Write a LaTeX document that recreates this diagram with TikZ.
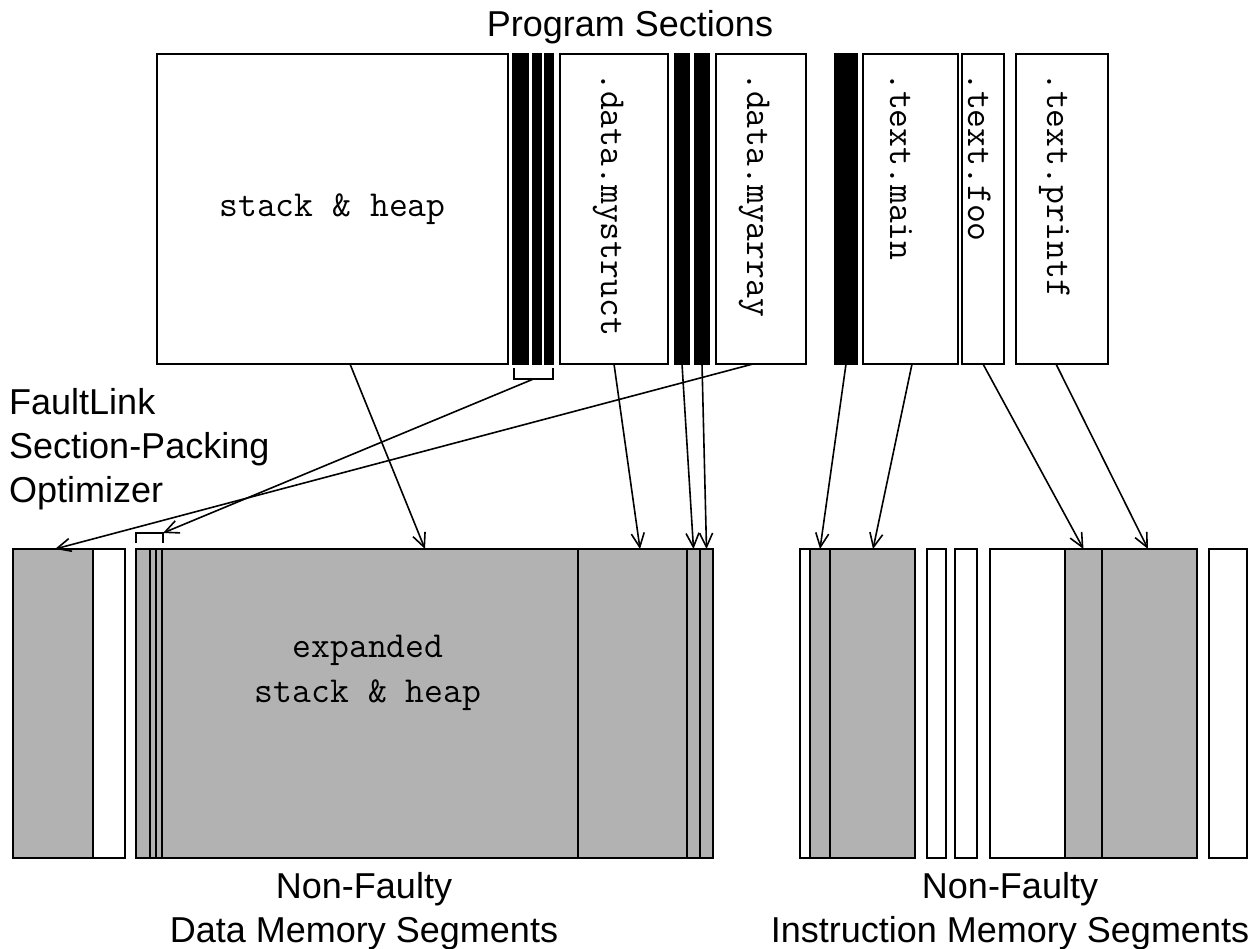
\documentclass[tikz,border=0pt]{standalone}
\usepackage{fontspec}
\setmainfont{Liberation Sans}
\usetikzlibrary{arrows.meta,calc}
\begin{document}
\begin{tikzpicture}[x=1pt,y=-1pt,
  bx/.style={draw=black, line width=1.6pt, inner sep=0pt, outer sep=0pt, anchor=north west, minimum height=310pt},
  wbox/.style={bx, fill=white},
  kbox/.style={bx, fill=black},
  gbox/.style={bx, fill=black!30, minimum height=309pt},
  obox/.style={bx, fill=white, minimum height=309pt},
  ln/.style={line width=1.6pt},
  arr/.style={line width=1.6pt, -{Straight Barb[length=14pt,width=13pt,line width=1.6pt]}},
  sans/.style={font=\fontsize{36}{44}\selectfont, inner sep=0pt, align=center},
  mono/.style={font=\fontsize{36.6}{45}\selectfont\ttfamily, inner sep=0pt, align=center},
  vlab/.style={font=\fontsize{36.6}{45}\selectfont\ttfamily, inner sep=0pt, rotate=-90, anchor=base west}
]
\useasboundingbox (0,0) rectangle (1260,949);

% top program sections
\node[wbox, minimum width=351pt] (sh) at (157,54) {};
\node[mono] (shl) at (sh.center) {stack \& heap};
\node[kbox, minimum width=15pt] (b1) at (513,54) {};
\node[kbox, minimum width=8pt] (b2) at (533,54) {};
\node[kbox, minimum width=8pt] (b3) at (545,54) {};
\node[wbox, minimum width=108pt] (ms) at (560,54) {};
\node[kbox, minimum width=14pt] (b4) at (675,54) {};
\node[kbox, minimum width=14pt] (b5) at (695,54) {};
\node[wbox, minimum width=90pt] (ma) at (716,54) {};
\node[kbox, minimum width=22pt] (b6) at (835,54) {};
\node[wbox, minimum width=95pt] (tm) at (863,54) {};
\node[wbox, minimum width=42pt] (tf) at (962,54) {};
\node[wbox, minimum width=92pt] (tp) at (1016,54) {};

\node[vlab] (msl) at (601,72) {.data.mystruct};
\node[vlab] (mal) at (747,72) {.data.myarray};
\node[vlab] (tml) at (890,72) {.text.main};
\node[vlab] (tfl) at (968,72) {.text.foo};
\node[vlab] (tpl) at (1047,72) {.text.printf};

% bottom data segments
\node[gbox, minimum width=80pt] (l1) at (13,549) {};
\node[obox, minimum width=32pt] (l2) at (93,549) {};
\node[gbox, minimum width=14pt] (d1) at (136,549) {};
\node[gbox, minimum width=6pt] (d2) at (150,549) {};
\node[gbox, minimum width=6pt] (d3) at (156,549) {};
\node[gbox, minimum width=416pt] (d4) at (162,549) {};
\node[mono] (d4l) at (368,673) {expanded\\stack \& heap};
\node[gbox, minimum width=109pt] (d5) at (578,549) {};
\node[gbox, minimum width=13pt] (d6) at (687,549) {};
\node[gbox, minimum width=13pt] (d7) at (700,549) {};

% bottom instruction segments
\node[obox, minimum width=10pt] (i1) at (800,549) {};
\node[gbox, minimum width=20pt] (i2) at (810,549) {};
\node[gbox, minimum width=85pt] (i3) at (830,549) {};
\node[obox, minimum width=19pt] (i4) at (927,549) {};
\node[obox, minimum width=22pt] (i5) at (955,549) {};
\node[obox, minimum width=75pt] (i6) at (990,549) {};
\node[gbox, minimum width=37pt] (i7) at (1065,549) {};
\node[gbox, minimum width=95pt] (i8) at (1102,549) {};
\node[obox, minimum width=38pt] (i9) at (1209,549) {};

% brackets
\coordinate (tbl) at ($(b1.south west)+(1,15)$);
\coordinate (tbr) at ($(b3.south east)+(0,15)$);
\draw[ln] ($(tbl)+(0,-11)$) -- (tbl) -- (tbr) -- ($(tbr)+(0,-11)$);
\coordinate (tbm) at ($(tbl)!0.5!(tbr)$);
\coordinate (bbl) at ($(d1.north west)+(0,-16)$);
\coordinate (bbr) at ($(d3.north east)+(1,-16)$);
\draw[ln] ($(bbl)+(0,10)$) -- (bbl) -- (bbr) -- ($(bbr)+(0,10)$);

% arrows
\draw[arr] ([xshift=193pt]sh.south west) -- ([xshift=263pt]d4.north west);
\draw[arr] (tbm) -- (bbr);
\draw[arr] ([xshift=37pt]ma.south west) -- ([xshift=42pt]l1.north west);
\draw[arr] ([xshift=54pt]ms.south west) -- ([xshift=62pt]d5.north west);
\draw[arr] (b4.south) -- (d6.north);
\draw[arr] (b5.south) -- (d7.north);
\draw[arr] (b6.south) -- (i2.north);
\draw[arr] ([xshift=49pt]tm.south west) -- ([xshift=43pt]i3.north west);
\draw[arr] (tf.south) -- (i7.north);
\draw[arr] ([xshift=40pt]tp.south west) -- ([xshift=46pt]i8.north west);

% labels
\node[sans] (title) at (630,27) {Program Sections};
\node[sans, anchor=north west, align=left] (fl) at (9,388) {FaultLink\\Section-Packing\\Optimizer};
\node[sans] (dl) at (364,911) {Non-Faulty\\Data Memory Segments};
\node[sans] (il) at (1010,911) {Non-Faulty\\Instruction Memory Segments};
\end{tikzpicture}
\end{document}
